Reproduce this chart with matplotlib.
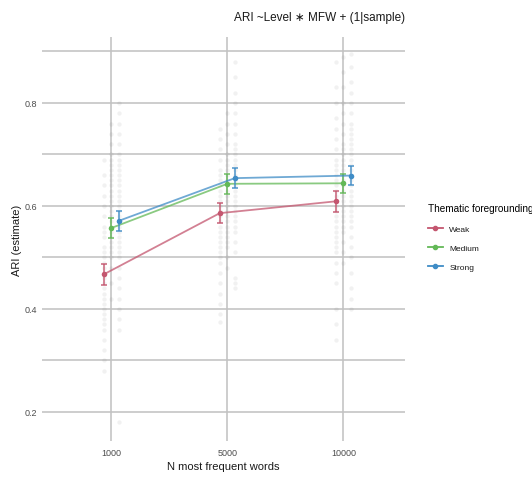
import matplotlib
matplotlib.use("Agg")
import matplotlib.pyplot as plt
from matplotlib.lines import Line2D

plt.rcParams['font.family'] = ['Liberation Sans', 'DejaVu Sans']

mfw_labels = ["1000", "5000", "10000"]
levels = ["Weak", "Medium", "Strong"]
colors = {"Weak": "#c4566f", "Medium": "#63b957", "Strong": "#3f8cc6"}

estimate = {
    "Weak":   [0.467, 0.586, 0.609],
    "Medium": [0.557, 0.643, 0.644],
    "Strong": [0.571, 0.654, 0.659],
}
err = {
    "Weak":   [0.020, 0.020, 0.020],
    "Medium": [0.019, 0.019, 0.019],
    "Strong": [0.019, 0.019, 0.019],
}

# raw sample values (faint background points)
raw = {
    ("Weak", 0): [0.69, 0.66, 0.64, 0.62, 0.60, 0.58, 0.56, 0.55, 0.54, 0.52, 0.51, 0.50, 0.49, 0.48,
                  0.47, 0.46, 0.45, 0.44, 0.43, 0.42, 0.41, 0.40, 0.39, 0.38, 0.37, 0.36, 0.34, 0.32, 0.30, 0.28],
    ("Medium", 0): [0.76, 0.74, 0.72, 0.70, 0.69, 0.68, 0.67, 0.66, 0.65, 0.64, 0.63, 0.62, 0.61, 0.60,
                    0.59, 0.58, 0.57, 0.56, 0.55, 0.54, 0.53, 0.52, 0.51, 0.50, 0.48, 0.45, 0.42],
    ("Strong", 0): [0.80, 0.78, 0.76, 0.74, 0.72, 0.70, 0.69, 0.68, 0.67, 0.66, 0.65, 0.64, 0.63, 0.62,
                    0.61, 0.60, 0.59, 0.58, 0.57, 0.56, 0.55, 0.54, 0.53, 0.52, 0.51, 0.50, 0.48,
                    0.46, 0.44, 0.42, 0.40, 0.38, 0.36, 0.18],
    ("Weak", 1): [0.75, 0.73, 0.71, 0.69, 0.67, 0.66, 0.65, 0.64, 0.63, 0.62, 0.61, 0.60, 0.59, 0.58,
                  0.57, 0.56, 0.55, 0.54, 0.53, 0.52, 0.51, 0.50, 0.49, 0.47, 0.45, 0.43, 0.41, 0.39, 0.375],
    ("Medium", 1): [0.78, 0.76, 0.74, 0.72, 0.70, 0.69, 0.68, 0.67, 0.66, 0.65, 0.64, 0.63, 0.62, 0.61,
                    0.60, 0.59, 0.58, 0.57, 0.56, 0.55, 0.54, 0.53, 0.52, 0.50, 0.48],
    ("Strong", 1): [0.88, 0.85, 0.82, 0.80, 0.78, 0.76, 0.74, 0.72, 0.71, 0.70, 0.69, 0.68, 0.67, 0.66,
                    0.65, 0.64, 0.63, 0.62, 0.61, 0.60, 0.59, 0.58, 0.57, 0.56, 0.55, 0.53, 0.51,
                    0.46, 0.45, 0.44],
    ("Weak", 2): [0.88, 0.83, 0.80, 0.77, 0.75, 0.73, 0.71, 0.69, 0.68, 0.67, 0.66, 0.65, 0.64, 0.63,
                  0.62, 0.61, 0.60, 0.59, 0.58, 0.57, 0.56, 0.55, 0.54, 0.53, 0.52, 0.51, 0.49,
                  0.47, 0.45, 0.40, 0.37, 0.34],
    ("Medium", 2): [0.89, 0.86, 0.83, 0.80, 0.78, 0.76, 0.74, 0.72, 0.71, 0.70, 0.69, 0.68, 0.67, 0.66,
                    0.65, 0.64, 0.63, 0.62, 0.61, 0.60, 0.59, 0.58, 0.57, 0.56, 0.55, 0.53, 0.51, 0.49],
    ("Strong", 2): [0.895, 0.87, 0.84, 0.82, 0.80, 0.78, 0.76, 0.75, 0.74, 0.73, 0.72, 0.71, 0.70, 0.69,
                    0.68, 0.67, 0.66, 0.65, 0.64, 0.63, 0.62, 0.61, 0.60, 0.59, 0.58, 0.57, 0.56,
                    0.54, 0.52, 0.50, 0.47, 0.44, 0.42, 0.40],
}

dodge = {"Weak": -0.065, "Medium": 0.0, "Strong": 0.065}

fig = plt.figure(figsize=(5.32, 4.81), dpi=100)
ax = fig.add_axes([42/532, 1-442/481, (405-42)/532, (442-38)/481])
ax.set_xlim(0.405, 3.53)
ax.set_ylim(0.1437, 0.928)

grid_c = "#c2c2c2"
for v in [0.2, 0.3, 0.4, 0.5, 0.6, 0.7, 0.8, 0.9]:
    ax.axhline(v, color=grid_c, lw=1.15, zorder=0)
for x in [1, 2, 3]:
    ax.axvline(x, color=grid_c, lw=1.15, zorder=0)

for lev in levels:
    for i in range(3):
        vals = raw[(lev, i)]
        ax.scatter([i + 1 + dodge[lev]] * len(vals), vals, s=10, color="#555555",
                   alpha=0.08, linewidths=0, zorder=1)

for lev in levels:
    xs = [i + 1 + dodge[lev] for i in range(3)]
    c = colors[lev]
    ax.plot(xs, estimate[lev], color=c, lw=1.3, alpha=0.75, zorder=3)
    ax.errorbar(xs, estimate[lev], yerr=err[lev], fmt='none', ecolor=c, elinewidth=1.2,
                capsize=2.4, capthick=1.2, alpha=0.85, zorder=3)
    ax.scatter(xs, estimate[lev], s=16, color=c, linewidths=0, zorder=4)

for s in ax.spines.values():
    s.set_visible(False)
ax.set_xticks([1, 2, 3])
ax.set_xticklabels(mfw_labels)
ax.set_yticks([0.2, 0.4, 0.6, 0.8])
ax.set_yticklabels(["0.2", "0.4", "0.6", "0.8"])
ax.tick_params(axis='y', length=0, labelsize=6.5, labelcolor="#4d4d4d", pad=3.5)
ax.tick_params(axis='x', length=0, labelsize=6.5, labelcolor="#4d4d4d", pad=5)
ax.set_xlabel("N most frequent words", fontsize=8, color="#1a1a1a", labelpad=3)
ax.set_ylabel("ARI (estimate)", fontsize=8, color="#1a1a1a", labelpad=1.5)

fig.text(405/532, 1-18/481, "ARI ~Level \u2217 MFW + (1|sample)", ha="right", va="center",
         fontsize=8.5, color="#1a1a1a")

handles = [Line2D([0], [0], color=colors[l], marker='o', markersize=3, lw=1.3) for l in levels]
leg = fig.legend(handles, levels, title="Thematic foregrounding", loc="upper left",
                 bbox_to_anchor=(420/532, 1-197/481), frameon=False, fontsize=6,
                 title_fontsize=7.2, handlelength=1.9, handletextpad=0.7, labelspacing=1.35,
                 alignment="left")
for t in leg.get_texts():
    t.set_color("#1a1a1a")

fig.savefig("out.png", dpi=100)
